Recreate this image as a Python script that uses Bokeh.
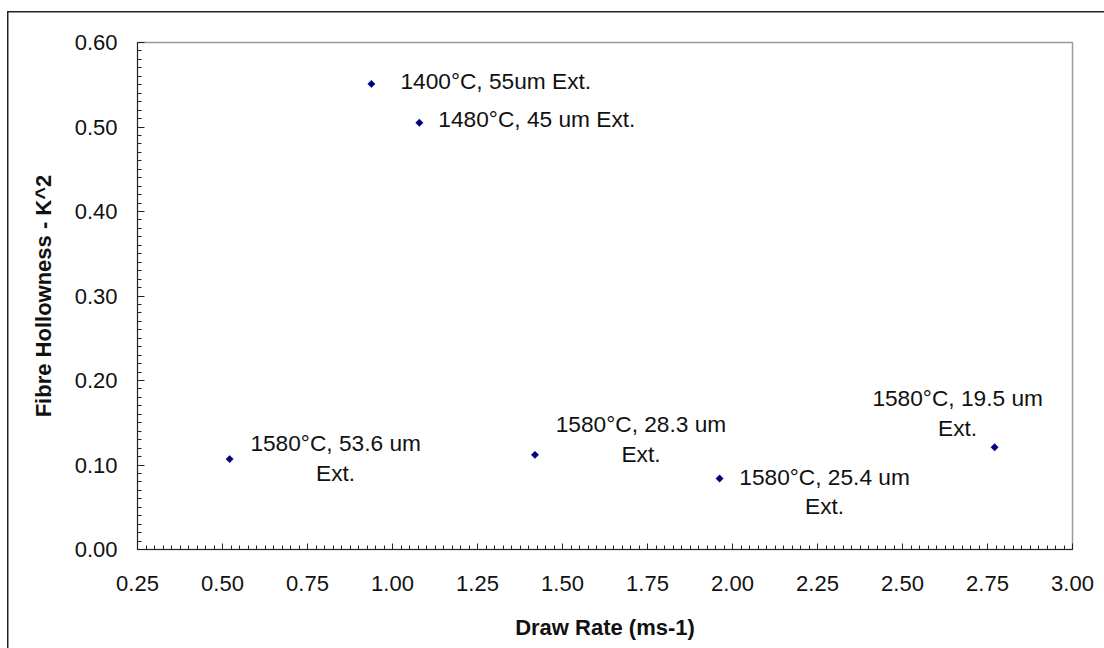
import numpy as np
from bokeh.plotting import figure
from bokeh.models import (ColumnDataSource, FixedTicker, NumeralTickFormatter, Range1d)
from bokeh.core.properties import value
from bokeh.embed import file_html
from bokeh.resources import INLINE

# ---- data ----
draw_rate = [0.938, 1.079, 0.521, 1.419, 1.962, 2.771]
hollowness = [0.551, 0.505, 0.107, 0.112, 0.084, 0.121]
labels = [
    "1400°C, 55um Ext.",
    "1480°C, 45 um Ext.",
    "1580°C, 53.6 um\nExt.",
    "1580°C, 28.3 um\nExt.",
    "1580°C, 25.4 um\nExt.",
    "1580°C, 19.5 um\nExt.",
]
x_ticks = [0.25, 0.50, 0.75, 1.00, 1.25, 1.50, 1.75, 2.00, 2.25, 2.50, 2.75, 3.00]
y_ticks = [0.00, 0.10, 0.20, 0.30, 0.40, 0.50, 0.60]
x_title = "Draw Rate (ms-1)"
y_title = "Fibre Hollowness - K^2"

# ---- label placement (screen offsets, px) ----
label_dx = [29, 19, 106, 106, 105, -37]
label_dy = [-3, -4, -1, -16, 13, -34]
label_align = ["left", "left", "center", "center", "center", "center"]

FONT = "Liberation Sans"
FS = "22px"
LFS = "22.7px"

x_minor = [round(v, 4) for v in np.arange(x_ticks[0], x_ticks[-1] + 1e-9, 0.025)]
y_minor = [round(v, 4) for v in np.arange(y_ticks[0], y_ticks[-1] + 1e-9, 0.01)]

src = ColumnDataSource(dict(x=draw_rate, y=hollowness))
lab_src = ColumnDataSource(dict(x=draw_rate, y=hollowness, text=labels,
                                dx=label_dx, dy=label_dy, align=label_align))

p = figure(width=1104, height=648, output_backend="svg", toolbar_location=None,
           x_range=Range1d(x_ticks[0], x_ticks[-1]), y_range=Range1d(y_ticks[0], y_ticks[-1]),
           min_border_left=137, min_border_right=32, min_border_top=42,
           min_border_bottom=99)
p.xgrid.visible = False
p.ygrid.visible = False
p.outline_line_color = "#9a9a9a"
p.outline_line_width = 1.5
p.background_fill_color = "white"
p.border_fill_alpha = 0
p.styles = {"box-shadow": "inset 7px 11px 0 0 white, inset 8.5px 12.5px 0 0 #222222",
            "background-color": "white"}

p.xaxis.ticker = FixedTicker(ticks=x_ticks, minor_ticks=x_minor)
p.yaxis.ticker = FixedTicker(ticks=y_ticks, minor_ticks=y_minor)
p.xaxis.formatter = NumeralTickFormatter(format="0.00")
p.yaxis.formatter = NumeralTickFormatter(format="0.00")

for ax in (p.xaxis[0], p.yaxis[0]):
    ax.axis_line_color = "#222222"
    ax.major_tick_line_color = "#222222"
    ax.minor_tick_line_color = "#222222"
    ax.major_tick_out = 0
    ax.minor_tick_out = 0
    ax.major_label_text_font = FONT
    ax.major_label_text_font_size = FS
    ax.major_label_text_color = "#111111"
    ax.axis_label_text_font = FONT
    ax.axis_label_text_font_size = FS
    ax.axis_label_text_font_style = "bold"
    ax.axis_label_text_color = "#111111"

p.xaxis.major_tick_in = 6
p.xaxis.minor_tick_in = 4
p.yaxis.major_tick_in = 7
p.yaxis.minor_tick_in = 4
p.xaxis.major_label_standoff = 26
p.yaxis.major_label_standoff = 20
p.xaxis.axis_label_standoff = 21
p.yaxis.axis_label_standoff = 16
p.xaxis.axis_label = x_title
p.yaxis.axis_label = y_title

p.scatter("x", "y", source=src, marker="square", angle=np.pi / 4, size=5.2,
          fill_color="#000080", line_color="#000080", line_width=0.5)

p.text("x", "y", text="text", source=lab_src, x_offset="dx", y_offset="dy",
       text_align="align", text_baseline="middle",
       text_font=value(FONT), text_font_size=LFS, text_color="#111111",
       text_line_height=1.15)

open("out.html", "w").write(file_html(p, INLINE))
